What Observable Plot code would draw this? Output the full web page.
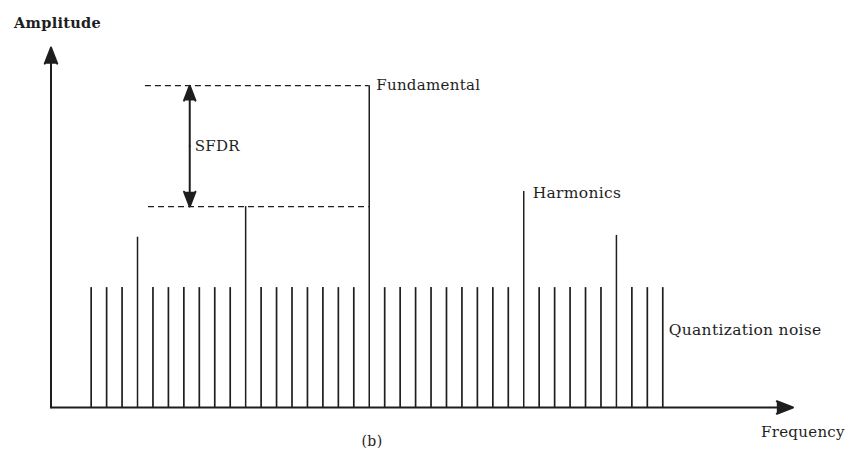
<!DOCTYPE html>
<html>
<head>
<meta charset="utf-8">
<script src="https://cdn.jsdelivr.net/npm/d3@7"></script>
<script src="https://cdn.jsdelivr.net/npm/@observablehq/plot@0.6"></script>
<style>
  body { margin: 0; background: #fff; }
  #chart svg { display: block; }
  #chart text { letter-spacing: 0.3px; }
</style>
</head>
<body>
<div id="chart"></div>
<script>
// Spectrum sketch: quantization-noise floor, fundamental and harmonic spurs.
// Frequency is in bin units, amplitude in arbitrary units (0–100).
const noiseBins = [0, 1, 2, 4, 5, 6, 7, 8, 9, 11, 12, 13, 14, 15, 16, 17, 19, 20, 21,
                   22, 23, 24, 25, 26, 27, 29, 30, 31, 32, 33, 35, 36, 37];
const noiseAmp  = [33.3, 33.3, 33.3, 33.3, 33.3, 33.3, 33.3, 33.3, 33.3, 33.3, 33.3,
                   33.3, 33.3, 33.3, 33.3, 33.3, 33.3, 33.3, 33.3, 33.3, 33.3, 33.3,
                   33.3, 33.3, 33.3, 33.3, 33.3, 33.3, 33.3, 33.3, 33.3, 33.3, 33.3];
const spurBins  = [3, 10, 18, 28, 34];
const spurAmp   = [47.3, 55.8, 89.4, 60.0, 47.8];
const fundamentalBin = 18;
const fundamentalAmp = 89.4;
const worstSpurBin = 10;      // spur that sets the SFDR reference level
const worstSpurAmp = 55.8;

const noise = noiseBins.map((bin, i) => ({bin, amp: noiseAmp[i]}));
const spurs = spurBins.map((bin, i) => ({bin, amp: spurAmp[i]}));

const xMin = -2.6, xMax = 45.43;
const sfdrX = 6.38;
const sfdrMid = (fundamentalAmp + worstSpurAmp) / 2;
const font = "DejaVu Serif";
const ink = "#1e1e1e";

// arrows with solid triangular heads
const arrowStyle = {x1: "x1", y1: "y1", x2: "x2", y2: "y2", stroke: ink, fill: ink,
  strokeWidth: 2, headLength: 13, headAngle: 42, strokeLinejoin: "miter"};

const chart = Plot.plot({
  width: 853,
  height: 453,
  marginLeft: 50.5,
  marginRight: 60.5,
  marginTop: 47,
  marginBottom: 46,
  x: {domain: [xMin, xMax], axis: null},
  y: {domain: [0, 100], axis: null},
  style: {background: "#fff"},
  marks: [
    // axes
    Plot.arrow([{x1: xMin, y1: 0, x2: xMin, y2: 100}], arrowStyle),
    Plot.arrow([{x1: xMin, y1: 0, x2: xMax, y2: 0}], arrowStyle),
    // dashed reference levels
    Plot.ruleY([fundamentalAmp], {x1: 3.51, x2: fundamentalBin, stroke: ink, strokeWidth: 1.3, strokeDasharray: "6,4"}),
    Plot.ruleY([worstSpurAmp], {x1: 3.71, x2: fundamentalBin, stroke: ink, strokeWidth: 1.3, strokeDasharray: "6,4"}),
    // noise floor and spurs
    Plot.ruleX(noise, {x: "bin", y1: 0, y2: "amp", stroke: ink, strokeWidth: 1.7}),
    Plot.ruleX(spurs, {x: "bin", y1: 0, y2: "amp", stroke: ink, strokeWidth: 1.5}),
    // SFDR double-headed arrow
    Plot.arrow([
      {x1: sfdrX, y1: sfdrMid, x2: sfdrX, y2: fundamentalAmp},
      {x1: sfdrX, y1: sfdrMid, x2: sfdrX, y2: worstSpurAmp}
    ], {...arrowStyle, headLength: 12}),
    // labels
    Plot.text(["SFDR"], {x: sfdrX, y: sfdrMid, dx: 5, textAnchor: "start",
      lineAnchor: "middle", fontFamily: font, fontSize: 15, fill: ink}),
    Plot.text(["Fundamental"], {x: fundamentalBin, y: fundamentalAmp, dx: 7, textAnchor: "start",
      lineAnchor: "middle", fontFamily: font, fontSize: 15, fill: ink}),
    Plot.text(["Harmonics"], {x: 28, y: 60, dx: 9, dy: 2, textAnchor: "start",
      lineAnchor: "middle", fontFamily: font, fontSize: 15.5, fill: ink}),
    Plot.text(["Quantization noise"], {x: 37, y: 21.4, dx: 6, textAnchor: "start",
      lineAnchor: "middle", fontFamily: font, fontSize: 15.5, fill: ink}),
    Plot.text(["Amplitude"], {frameAnchor: "top-left", dx: -37, dy: -24, textAnchor: "start",
      lineAnchor: "middle", fontFamily: font, fontSize: 14.5, fontWeight: "bold", fill: ink}),
    Plot.text(["Frequency"], {frameAnchor: "bottom-right", dx: -32, dy: 25, textAnchor: "start",
      lineAnchor: "middle", fontFamily: font, fontSize: 15, fill: ink}),
    Plot.text(["(b)"], {frameAnchor: "bottom", dx: -50, dy: 34.5, textAnchor: "middle",
      lineAnchor: "middle", fontFamily: font, fontSize: 14, fill: ink})
  ]
});

document.getElementById("chart").append(chart);
</script>
</body>
</html>
